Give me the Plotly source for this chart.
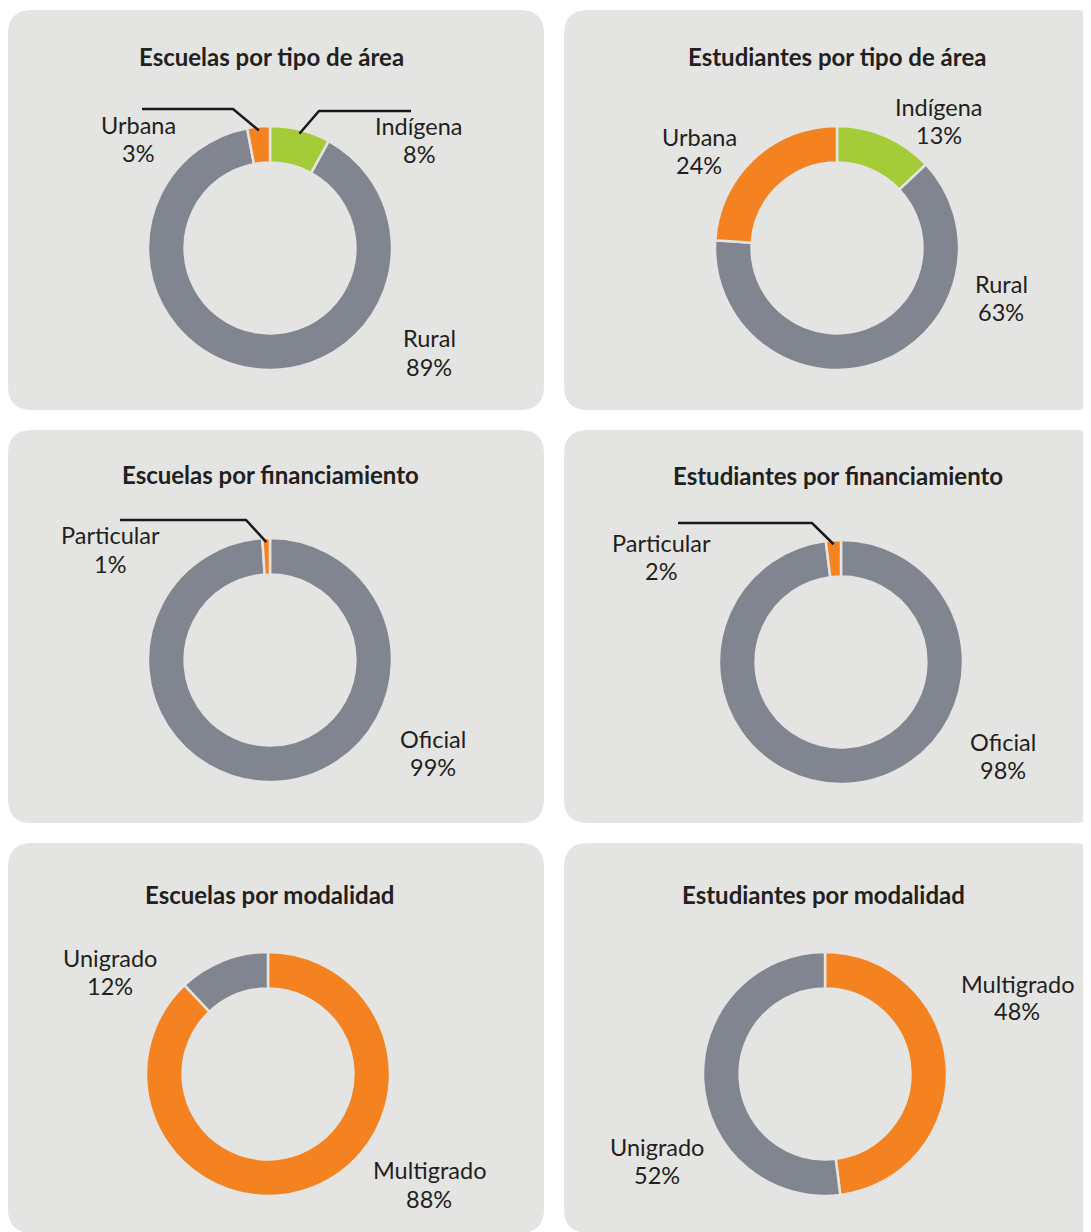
import math
import plotly.graph_objects as go

OFF = 8  # page body margin
W, H = 1091 - OFF, 1232 - OFF

# ---- data ----
titles = ["Escuelas por tipo de área", "Estudiantes por tipo de área",
          "Escuelas por financiamiento", "Estudiantes por financiamiento",
          "Escuelas por modalidad", "Estudiantes por modalidad"]

area_labels = ["Indígena", "Rural", "Urbana"]
escuelas_area = [8, 89, 3]
estudiantes_area = [13, 63, 24]

fin_labels = ["Oficial", "Particular"]
escuelas_fin = [99, 1]
estudiantes_fin = [98, 2]

mod_labels = ["Multigrado", "Unigrado"]
escuelas_mod = [88, 12]
estudiantes_mod = [48, 52]

GRAY = "#80858f"
ORANGE = "#f58220"
GREEN = "#a4cc39"
PANEL = "#e4e5e2"
TEXT = "#231f20"

area_colors = [GREEN, GRAY, ORANGE]
fin_colors = [GRAY, ORANGE]
mod_colors = [ORANGE, GRAY]

charts = [
    dict(labels=area_labels, values=escuelas_area, colors=area_colors),
    dict(labels=area_labels, values=estudiantes_area, colors=area_colors),
    dict(labels=fin_labels, values=escuelas_fin, colors=fin_colors),
    dict(labels=fin_labels, values=estudiantes_fin, colors=fin_colors),
    dict(labels=mod_labels, values=escuelas_mod, colors=mod_colors),
    dict(labels=mod_labels, values=estudiantes_mod, colors=mod_colors),
]

# ---- layout (pixel positions in page coordinates) ----
panels = [(8, 10, 544, 410), (564, 10, 1098, 410),
          (8, 430, 544, 823), (564, 430, 1098, 823),
          (8, 843, 544, 1233), (564, 843, 1098, 1233)]
centers = [(270, 248), (837, 248), (270, 660), (841, 662), (268, 1074), (825, 1074)]
R = 122
title_pos = [(271, 57), (837, 57), (270, 474), (838, 475), (270, 894), (823, 894)]
# label block centres per chart, in slice order (first line y, second line y)
label_pos = [
    [(419, 126, 154), (429, 338, 367), (138, 125, 153)],
    [(939, 107, 135), (1001, 284, 312), (699, 137, 165)],
    [(433, 739, 767), (110, 535, 564)],
    [(1003, 742, 770), (661, 543, 571)],
    [(429, 1170, 1199), (110, 958, 986)],
    [(1017, 984, 1011), (657, 1147, 1175)],
]
# leader lines: (chart index, slice index, elbow point, far end)
leaders = [
    (0, 2, (233, 109), (142, 109)),
    (0, 0, (319, 111), (411, 111)),
    (2, 1, (246, 520), (120, 520)),
    (3, 1, (812, 523), (678, 523)),
]


def px(x):
    return (x - OFF) / W


def py(y):
    return 1 - (y - OFF) / H


fig = go.Figure()

for i, c in enumerate(charts):
    cx, cy = centers[i]
    fig.add_trace(go.Pie(
        labels=c["labels"], values=c["values"], sort=False,
        direction="clockwise", rotation=0, hole=0.70,
        marker=dict(colors=c["colors"], line=dict(color=PANEL, width=2.5)),
        textinfo="none", hoverinfo="label+percent", showlegend=False,
        domain=dict(x=[px(cx - R), px(cx + R)], y=[py(cy + R), py(cy - R)]),
    ))

shapes = []
rad = 24
for (x0, y0, x1, y1) in panels:
    pts = [
        ("M", [(x0 + rad, y0)]),
        ("L", [(x1 - rad, y0)]),
        ("Q", [(x1, y0), (x1, y0 + rad)]),
        ("L", [(x1, y1 - rad)]),
        ("Q", [(x1, y1), (x1 - rad, y1)]),
        ("L", [(x0 + rad, y1)]),
        ("Q", [(x0, y1), (x0, y1 - rad)]),
        ("L", [(x0, y0 + rad)]),
        ("Q", [(x0, y0), (x0 + rad, y0)]),
    ]
    path = " ".join(cmd + " " + " ".join(f"{px(a):.5f},{py(b):.5f}" for a, b in p) for cmd, p in pts) + " Z"
    shapes.append(dict(type="path", path=path, xref="paper", yref="paper",
                       fillcolor=PANEL, line=dict(width=0), layer="below"))

for ci, si, elbow, end in leaders:
    vals = charts[ci]["values"]
    tot = sum(vals)
    mid = (sum(vals[:si]) + vals[si] / 2) / tot * 2 * math.pi
    cx, cy = centers[ci]
    r = R - 4
    sx, sy = cx + r * math.sin(mid), cy - r * math.cos(mid)
    path = f"M {px(sx):.5f},{py(sy):.5f} L {px(elbow[0]):.5f},{py(elbow[1]):.5f} L {px(end[0]):.5f},{py(end[1]):.5f}"
    shapes.append(dict(type="path", path=path, xref="paper", yref="paper",
                       line=dict(color="#1a1a1a", width=2.5), layer="above"))

annotations = []
for i, t in enumerate(titles):
    x, y = title_pos[i]
    annotations.append(dict(text=f"<b>{t}</b>", x=px(x), y=py(y), xref="paper", yref="paper",
                            showarrow=False, xanchor="center", yanchor="middle",
                            font=dict(family="Lato", size=24, color=TEXT)))

for i, c in enumerate(charts):
    tot = sum(c["values"])
    for j, (lab, v) in enumerate(zip(c["labels"], c["values"])):
        x, y1, y2 = label_pos[i][j]
        pct = round(v / tot * 100)
        for txt, yy in ((lab, y1), (f"{pct}%", y2)):
            annotations.append(dict(text=txt, x=px(x), y=py(yy), xref="paper", yref="paper",
                                    showarrow=False, xanchor="center", yanchor="middle",
                                    font=dict(family="Lato", size=23.5, color=TEXT)))

fig.update_layout(width=W, height=H, margin=dict(l=0, r=0, t=0, b=0),
                  paper_bgcolor="white", plot_bgcolor="white",
                  shapes=shapes, annotations=annotations,
                  font=dict(family="Lato"))

fig.write_html("out.html")
